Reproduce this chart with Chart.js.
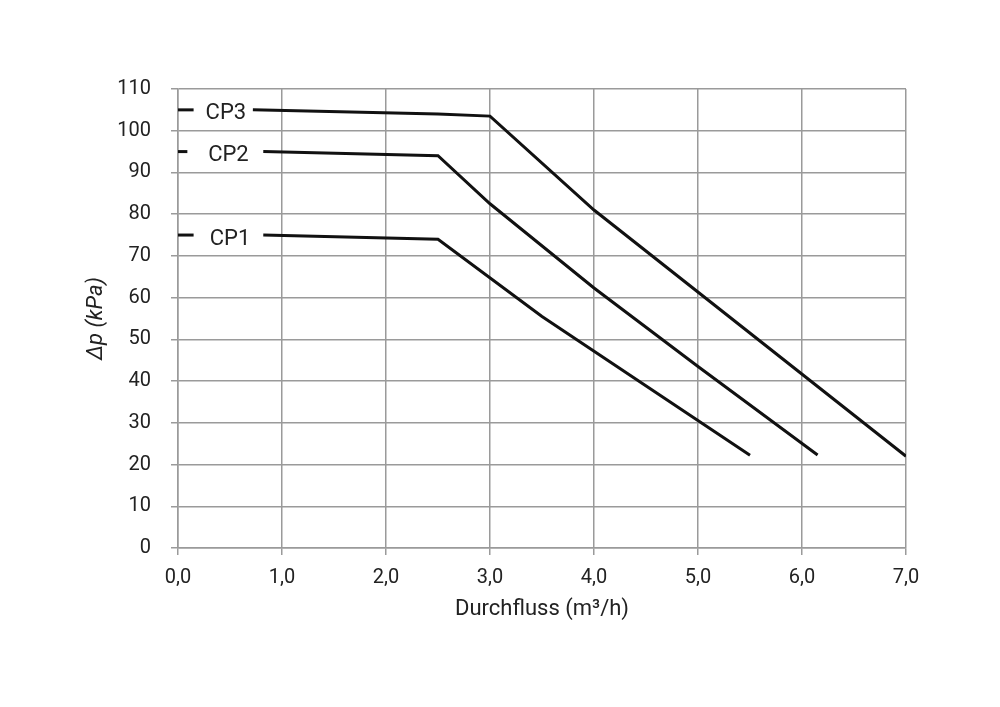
<!DOCTYPE html>
<html>
<head>
<meta charset="utf-8">
<script src="https://cdn.jsdelivr.net/npm/chart.js@4/dist/chart.umd.min.js"></script>
<style>
html,body{margin:0;padding:0;background:#fff;}
#wrap{width:1000px;height:707px;position:relative;}
</style>
</head>
<body>
<div id="wrap"><canvas id="c" width="1000" height="707"></canvas></div>
<script>
// ---- data ----
const seriesNames = ['CP1', 'CP2', 'CP3'];
const cp1X = [0.82, 2.5, 3.5, 5.5];
const cp1Y = [75, 74, 55.5, 22.2];
const cp2X = [0.82, 2.5, 3.0, 4.0, 5.0, 6.15];
const cp2Y = [95, 94, 82.5, 62.3, 43.5, 22.3];
const cp3X = [0.72, 2.5, 3.0, 4.0, 7.0];
const cp3Y = [105, 104, 103.5, 81, 22];
const xTitle = 'Durchfluss (m³/h)';
const yTitle = 'Δp (kPa)';

const seriesX = [cp1X, cp2X, cp3X];
const seriesY = [cp1Y, cp2Y, cp3Y];
const dashLen = [0.15, 0.09, 0.15];
const labelX = [0.5, 0.485, 0.46];

const FONT = 'Roboto';
const datasets = [];
seriesNames.forEach((n, i) => {
  datasets.push({
    label: n,
    data: seriesX[i].map((x, k) => ({x: x, y: seriesY[i][k]})),
    borderColor: '#111', borderWidth: 3, pointRadius: 0, fill: false, tension: 0,
    borderJoinStyle: 'miter'
  });
  datasets.push({
    label: n + ' key',
    data: [{x: 0, y: seriesY[i][0]}, {x: dashLen[i], y: seriesY[i][0]}],
    borderColor: '#111', borderWidth: 3, pointRadius: 0, fill: false, borderCapStyle: 'butt'
  });
});

const labelPlugin = {
  id: 'cpLabels',
  afterDatasetsDraw(chart) {
    const ctx = chart.ctx;
    const xs = chart.scales.x, ys = chart.scales.y;
    ctx.save();
    ctx.font = '22px ' + FONT;
    ctx.fillStyle = '#222';
    ctx.textAlign = 'center';
    ctx.textBaseline = 'middle';
    seriesNames.forEach((n, i) => {
      ctx.fillText(n, xs.getPixelForValue(labelX[i]), ys.getPixelForValue(seriesY[i][0]) + 4);
    });
    ctx.restore();
  }
};

const fmt = v => Number(v).toFixed(1).replace('.', ',');

new Chart(document.getElementById('c'), {
  type: 'line',
  data: {datasets: datasets},
  plugins: [labelPlugin],
  options: {
    responsive: false,
    animation: false,
    devicePixelRatio: 1,
    layout: {padding: {left: 0, top: 89, right: 94, bottom: 0}},
    plugins: {legend: {display: false}, tooltip: {enabled: false}},
    scales: {
      x: {
        type: 'linear', min: 0, max: 7,
        ticks: {stepSize: 1, callback: v => fmt(v), color: '#222', font: {family: FONT, size: 20}, padding: 11, maxRotation: 0},
        grid: {color: '#9a9a9a', lineWidth: 1.5, tickLength: 7, drawTicks: true},
        border: {color: '#9a9a9a', width: 1.5},
        title: {display: true, text: xTitle, color: '#222', font: {family: FONT, size: 22}, padding: {top: 84, bottom: 84}},
        afterFit: s => { s.height = 707 - 548; }
      },
      y: {
        type: 'linear', min: 0, max: 110,
        ticks: {stepSize: 10, color: '#222', font: {family: FONT, size: 20}, padding: 20},
        grid: {color: '#9a9a9a', lineWidth: 1.5, tickLength: 7},
        border: {color: '#9a9a9a', width: 1.5},
        title: {display: true, text: yTitle, color: '#222', font: {family: FONT, size: 22, style: 'italic'}, padding: {top: 83, bottom: 83}},
        afterFit: s => { s.width = 178; }
      }
    }
  }
});
</script>
</body>
</html>
